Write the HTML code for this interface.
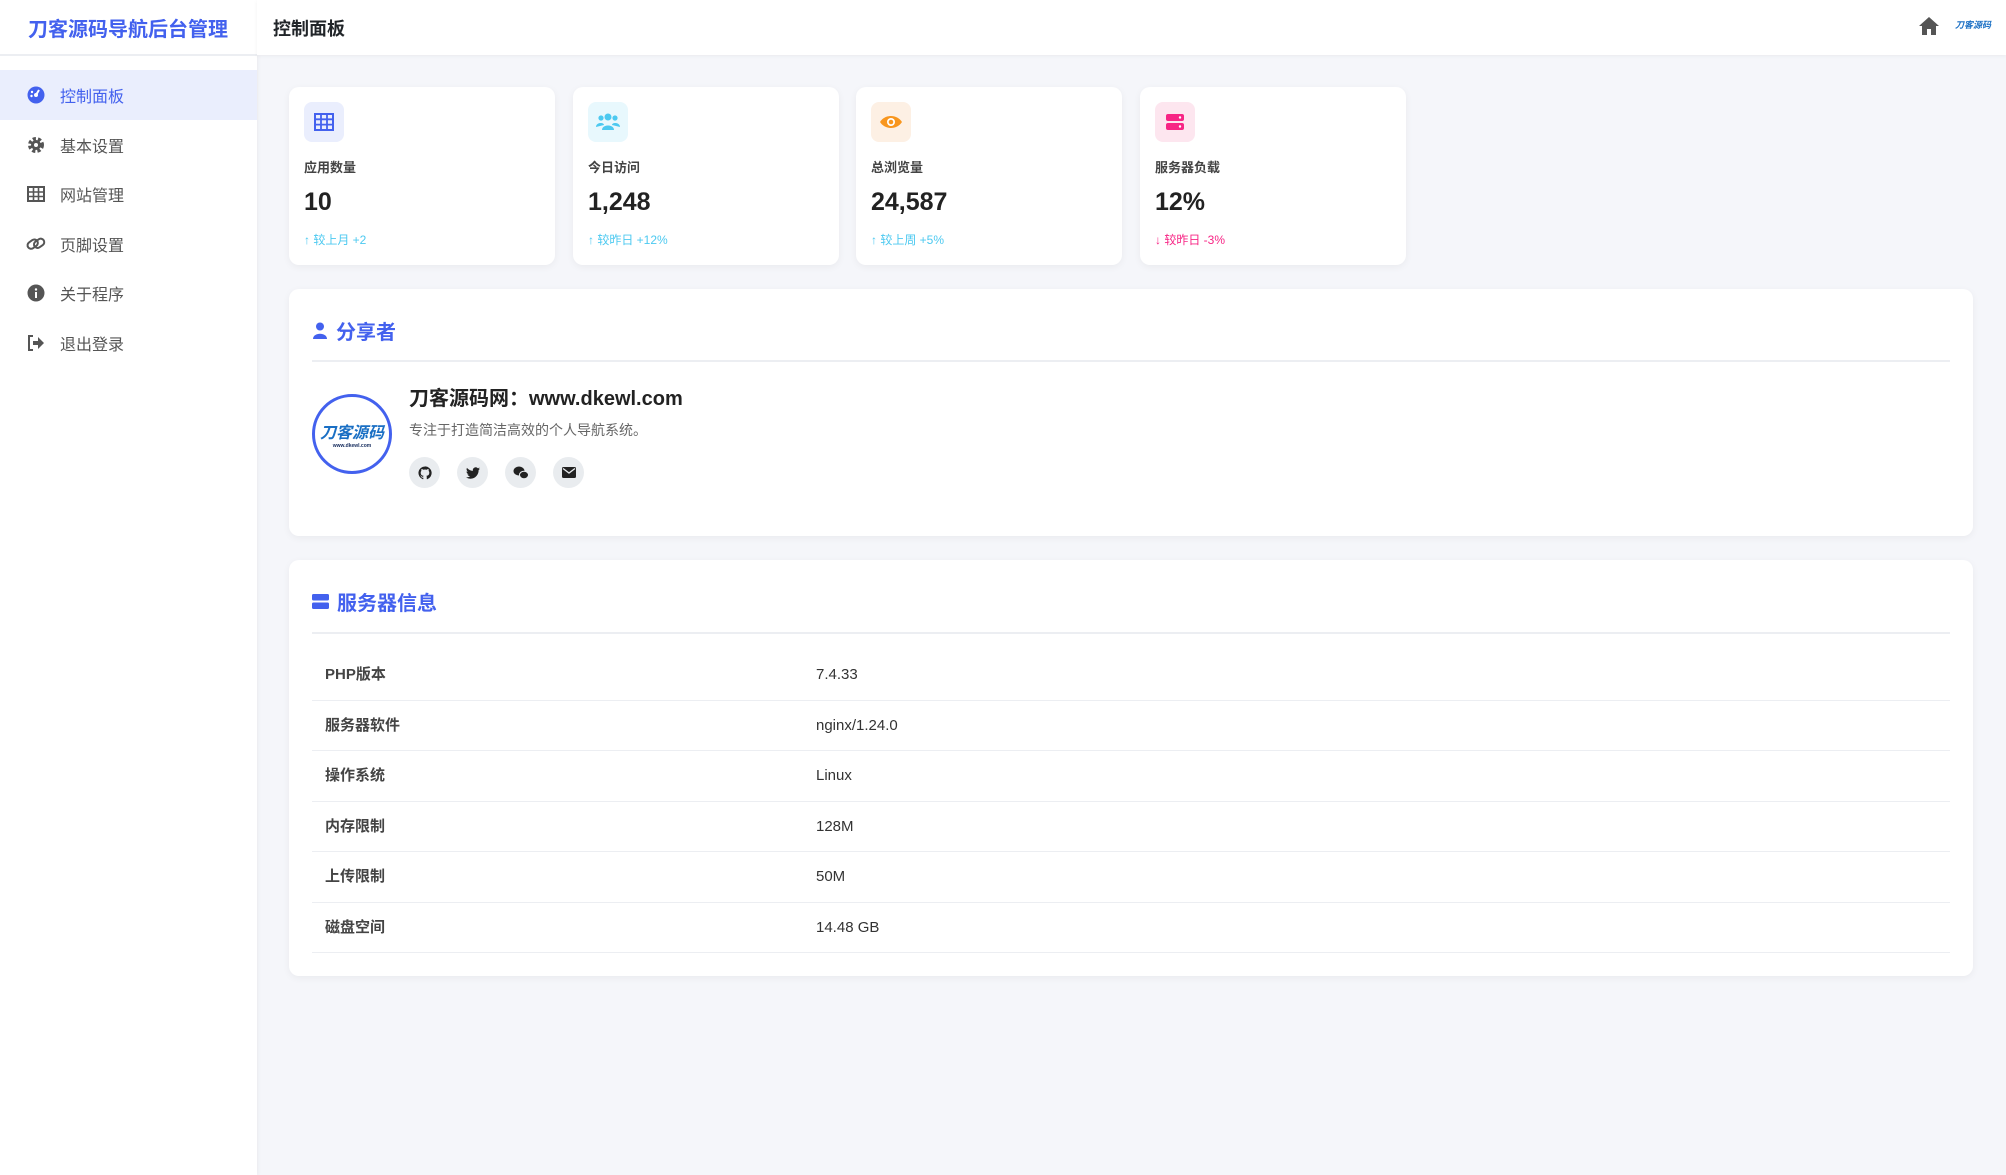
<!DOCTYPE html>
<html><head><meta charset="utf-8"><style>
*{box-sizing:border-box;margin:0;padding:0}
body{width:2006px;height:1175px;background:#f5f6fa;font-family:"Liberation Sans","Noto Sans CJK SC",sans-serif;position:relative;overflow:hidden;color:#212529}
.abs{position:absolute}
#side{left:0;top:0;width:257px;height:1175px;background:#fff;box-shadow:1px 0 4px rgba(0,0,0,.05)}
#logo{left:28px;top:13px;font-size:20px;font-weight:bold;color:#4361ee;white-space:nowrap}
#sideline{left:0;top:54px;width:257px;height:2px;background:#eceef2}
.mi{left:0;width:257px;height:50px;display:flex;align-items:center;font-size:16px;color:#555}
.mi .ic{width:20px;height:20px;margin-left:26px;margin-right:14px;display:flex;align-items:center;justify-content:center;color:#555}
.mi.act{background:#eaeefd;color:#4361ee}
.mi.act .ic{color:#4361ee}
#top{left:257px;top:0;width:1749px;height:55px;background:#fff;box-shadow:0 1px 4px rgba(0,0,0,.05)}
#ptitle{left:273px;top:15px;font-size:18px;font-weight:bold}
.card{background:#fff;border-radius:10px;box-shadow:0 2px 8px rgba(0,0,0,.05)}
.stat{top:87px;width:266px;height:178px}
.sib{position:absolute;left:15px;top:15px;width:40px;height:40px;border-radius:8px;display:flex;align-items:center;justify-content:center}
.slab{position:absolute;left:15px;top:70px;font-size:13px;color:#444;font-weight:bold}
.snum{position:absolute;left:15px;top:101px;font-size:25px;font-weight:bold;color:#222}
.sch{position:absolute;left:15px;top:144px;font-size:12px}
.sec{font-size:20px;font-weight:bold;color:#4361ee;display:flex;align-items:center;gap:8px}
.hr{height:2px;background:#eceef2}
.row{left:312px;width:1638px;height:50.5px;border-bottom:1.5px solid #eceef2;font-size:15px;color:#333}
.row span{position:absolute;top:15px;line-height:20px}
.row span:first-child{font-weight:600;color:#444}
.soc{width:31px;height:31px;border-radius:50%;background:#e9ecef;display:flex;align-items:center;justify-content:center;top:457px}
</style></head><body>
<div id="side" class="abs"></div>
<div id="logo" class="abs">刀客源码导航后台管理</div>
<div id="sideline" class="abs"></div>
<div class="abs mi act" style="top:70px"><div class="ic"><svg width="18" height="18" viewBox="0 0 18 18"><circle cx="9" cy="9" r="8.5" fill="#4361ee"/><circle cx="9" cy="9" r="2" fill="#fff"/><path d="M9 9 L12 4" stroke="#fff" stroke-width="2"/><circle cx="5" cy="6" r="1.2" fill="#fff"/><circle cx="4.5" cy="10" r="1.2" fill="#fff"/></svg></div>控制面板</div>
<div class="abs mi" style="top:120px"><div class="ic"><svg width="18" height="18" viewBox="0 0 18 18"><circle cx="9" cy="9" r="6" fill="none" stroke="#555" stroke-width="4" stroke-dasharray="3 2"/><circle cx="9" cy="9" r="5" fill="#555"/><circle cx="9" cy="9" r="2" fill="#fff"/></svg></div>基本设置</div>
<div class="abs mi" style="top:169px"><div class="ic"><svg width="18" height="16" viewBox="0 0 18 16"><rect x="1" y="1" width="16" height="14" fill="none" stroke="#555" stroke-width="2"/><path d="M1 6H17M1 10.5H17M6.5 1V15M11.5 1V15" stroke="#555" stroke-width="1.6"/></svg></div>网站管理</div>
<div class="abs mi" style="top:219px"><div class="ic"><svg width="20" height="18" viewBox="0 0 20 18"><rect x="1" y="6" width="11" height="7" rx="3.5" fill="none" stroke="#555" stroke-width="2" transform="rotate(-35 6 9)"/><rect x="8" y="5" width="11" height="7" rx="3.5" fill="none" stroke="#555" stroke-width="2" transform="rotate(-35 13 9)"/></svg></div>页脚设置</div>
<div class="abs mi" style="top:268px"><div class="ic"><svg width="18" height="18" viewBox="0 0 18 18"><circle cx="9" cy="9" r="8.5" fill="#555"/><rect x="8" y="8" width="2" height="6" fill="#fff"/><circle cx="9" cy="5.5" r="1.2" fill="#fff"/></svg></div>关于程序</div>
<div class="abs mi" style="top:318px"><div class="ic"><svg width="18" height="18" viewBox="0 0 18 18"><path d="M6 2H2V16H6" fill="none" stroke="#555" stroke-width="2"/><path d="M6 7H11V3L17 9L11 15V11H6Z" fill="#555"/></svg></div>退出登录</div>

<div id="top" class="abs"></div>
<div id="ptitle" class="abs">控制面板</div>
<svg class="abs" style="left:1918px;top:16px" width="22" height="20" viewBox="0 0 22 20"><path d="M11 1L1 10H4V19H9V13H13V19H18V10H21Z" fill="#555"/></svg>
<div class="abs" style="left:1955px;top:18px;font-size:9px;font-weight:bold;color:#1a6fc4;font-style:italic">刀客源码</div>

<div class="abs card stat" style="left:289px"><div class="sib" style="background:#eaeefd"><svg width="20" height="18" viewBox="0 0 20 18"><rect x="1" y="1" width="18" height="16" fill="none" stroke="#4361ee" stroke-width="2"/><path d="M1 6.3H19M1 11.6H19M7 1V17M13 1V17" stroke="#4361ee" stroke-width="1.8"/></svg></div><div class="slab">应用数量</div><div class="snum">10</div><div class="sch" style="color:#4cc9f0">↑ 较上月 +2</div></div>
<div class="abs card stat" style="left:573px"><div class="sib" style="background:#e8f8fd"><svg width="26" height="20" viewBox="0 0 26 20"><circle cx="13" cy="5" r="3.5" fill="#4cc9f0"/><circle cx="6" cy="6" r="2.6" fill="#4cc9f0"/><circle cx="20" cy="6" r="2.6" fill="#4cc9f0"/><path d="M7 18C7 12 19 12 19 18Z" fill="#4cc9f0"/><path d="M1 15C1 10 9 10 9 13Z M25 15C25 10 17 10 17 13Z" fill="#4cc9f0"/></svg></div><div class="slab">今日访问</div><div class="snum">1,248</div><div class="sch" style="color:#4cc9f0">↑ 较昨日 +12%</div></div>
<div class="abs card stat" style="left:856px"><div class="sib" style="background:#fdf0e4"><svg width="24" height="16" viewBox="0 0 24 16"><path d="M1 8C6 0 18 0 23 8C18 16 6 16 1 8Z" fill="#f8961e"/><circle cx="12" cy="8" r="4" fill="#fff"/><circle cx="12" cy="8" r="2.3" fill="#f8961e"/></svg></div><div class="slab">总浏览量</div><div class="snum">24,587</div><div class="sch" style="color:#4cc9f0">↑ 较上周 +5%</div></div>
<div class="abs card stat" style="left:1140px"><div class="sib" style="background:#fde6ef"><svg width="20" height="18" viewBox="0 0 20 18"><rect x="1" y="1" width="18" height="7" rx="2" fill="#f72585"/><rect x="1" y="10" width="18" height="7" rx="2" fill="#f72585"/><circle cx="15" cy="4.5" r="1.2" fill="#fff"/><circle cx="15" cy="13.5" r="1.2" fill="#fff"/></svg></div><div class="slab">服务器负载</div><div class="snum">12%</div><div class="sch" style="color:#f72585">↓ 较昨日 -3%</div></div>

<div class="abs card" style="left:289px;top:289px;width:1684px;height:247px"></div>
<div class="abs sec" style="left:312px;top:316px"><svg width="16" height="17" viewBox="0 0 16 17"><circle cx="8" cy="4.5" r="4" fill="#4361ee"/><path d="M1 17C1 10 15 10 15 17Z" fill="#4361ee"/></svg>分享者</div>
<div class="abs hr" style="left:312px;top:360px;width:1638px"></div>
<div class="abs" style="left:312px;top:394px;width:80px;height:80px;border-radius:50%;border:3px solid #4361ee;display:flex;flex-direction:column;align-items:center;justify-content:center"><div style="font-size:16px;font-weight:bold;color:#1a6fc4;font-style:italic">刀客源码</div><div style="font-size:5px;color:#1a3060;font-weight:bold">www.dkewl.com</div></div>
<div class="abs" style="left:409px;top:382px;font-size:20px;font-weight:bold;color:#222">刀客源码网：www.dkewl.com</div>
<div class="abs" style="left:409px;top:420px;font-size:14px;color:#666">专注于打造简洁高效的个人导航系统。</div>
<div class="abs soc" style="left:409px"><svg width="14" height="14" viewBox="0 0 16 16"><path d="M8 .5a7.5 7.5 0 0 0-2.4 14.6c.4 0 .5-.2.5-.4v-1.4c-2 .4-2.5-.9-2.5-.9-.3-.9-.8-1.100-.8-1.1-.7-.5 0-.5 0-.5.7 0 1.1.8 1.1.8.7 1.1 1.7.8 2.1.6 0-.5.3-.8.5-1-1.7-.2-3.4-.8-3.4-3.7 0-.8.3-1.5.8-2-.1-.2-.3-1 .1-2 0 0 .6-.2 2.1.8a7 7 0 0 1 3.800 0c1.4-1 2.1-.8 2.1-.8.4 1 .2 1.8.1 2 .5.5.8 1.2.8 2 0 2.9-1.7 3.5-3.4 3.7.3.2.5.7.5 1.4v2.1c0 .2.1.5.5.4A7.5 7.5 0 0 0 8 .5z" fill="#222"/></svg></div>
<div class="abs soc" style="left:457px"><svg width="14" height="12" viewBox="0 0 16 13"><path d="M16 1.5a6.5 6.5 0 0 1-1.9.5A3.3 3.3 0 0 0 15.6.2a6.6 6.6 0 0 1-2.1.8A3.3 3.3 0 0 0 7.9 4 9.3 9.3 0 0 1 1.1.6a3.3 3.3 0 0 0 1 4.4 3.3 3.3 0 0 1-1.5-.4 3.3 3.3 0 0 0 2.6 3.2 3.3 3.3 0 0 1-1.5.1 3.3 3.3 0 0 0 3.1 2.3A6.6 6.6 0 0 1 0 11.5 9.3 9.3 0 0 0 5 13c6 0 9.4-5 9.4-9.4v-.4A6.7 6.7 0 0 0 16 1.5z" fill="#222"/></svg></div>
<div class="abs soc" style="left:505px"><svg width="16" height="14" viewBox="0 0 16 14"><ellipse cx="6" cy="5" rx="5.5" ry="4.5" fill="#222"/><ellipse cx="11" cy="9" rx="4.5" ry="3.8" fill="#222" stroke="#e9ecef" stroke-width="1"/></svg></div>
<div class="abs soc" style="left:553px"><svg width="14" height="11" viewBox="0 0 14 11"><rect x="0" y="0" width="14" height="11" rx="1.5" fill="#222"/><path d="M1 1.5L7 6L13 1.5" fill="none" stroke="#e9ecef" stroke-width="1.3"/></svg></div>

<div class="abs card" style="left:289px;top:560px;width:1684px;height:416px"></div>
<div class="abs sec" style="left:312px;top:587px"><svg width="17" height="15" viewBox="0 0 17 15"><rect x="0" y="0" width="17" height="6.5" rx="1.5" fill="#4361ee"/><rect x="0" y="8.5" width="17" height="6.5" rx="1.5" fill="#4361ee"/></svg>服务器信息</div>
<div class="abs hr" style="left:312px;top:632px;width:1638px"></div>
<div class="abs row" style="top:650px"><span style="left:13px">PHP版本</span><span style="left:504px">7.4.33</span></div>
<div class="abs row" style="top:700.5px"><span style="left:13px">服务器软件</span><span style="left:504px">nginx/1.24.0</span></div>
<div class="abs row" style="top:751px"><span style="left:13px">操作系统</span><span style="left:504px">Linux</span></div>
<div class="abs row" style="top:801.5px"><span style="left:13px">内存限制</span><span style="left:504px">128M</span></div>
<div class="abs row" style="top:852px"><span style="left:13px">上传限制</span><span style="left:504px">50M</span></div>
<div class="abs row" style="top:902.5px"><span style="left:13px">磁盘空间</span><span style="left:504px">14.48 GB</span></div>
</body></html>
